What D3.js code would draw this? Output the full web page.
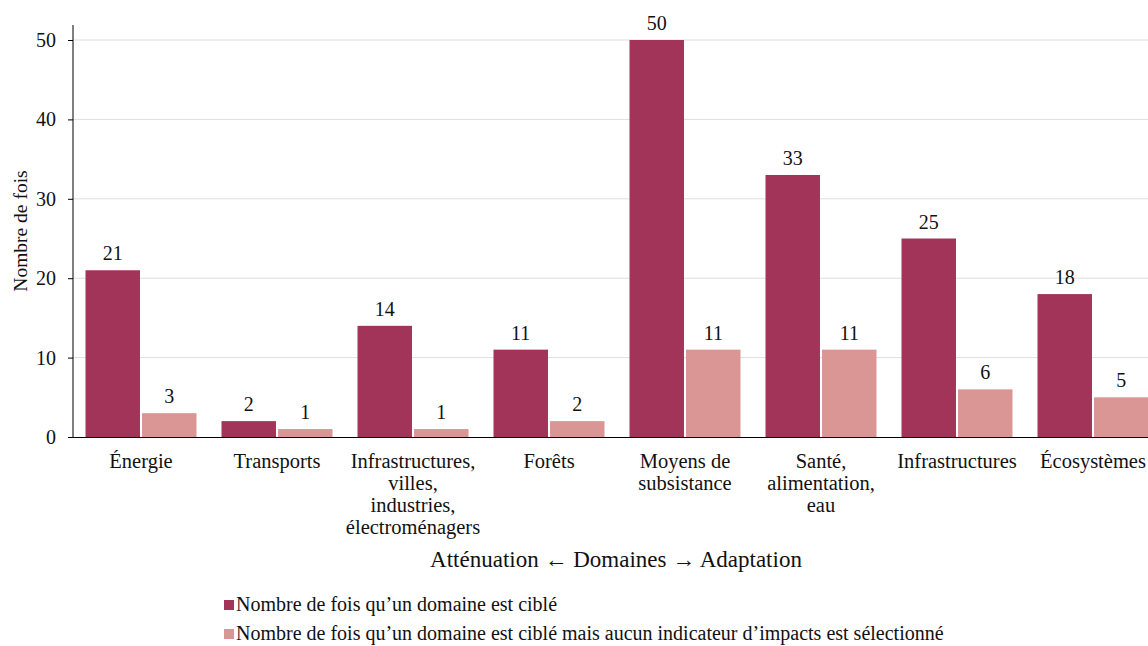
<!DOCTYPE html>
<html><head><meta charset="utf-8">
<script src="https://cdn.jsdelivr.net/npm/d3@7"></script>
<style>body{margin:0;background:#fff}svg{display:block}</style>
</head><body><svg id="c" width="1148" height="646" font-family="Liberation Serif"></svg>
<script>
const categories = [
  ["Énergie"],
  ["Transports"],
  ["Infrastructures,","villes,","industries,","électroménagers"],
  ["Forêts"],
  ["Moyens de","subsistance"],
  ["Santé,","alimentation,","eau"],
  ["Infrastructures"],
  ["Écosystèmes"]
];
const seriesNames = ["Nombre de fois qu’un domaine est ciblé",
  "Nombre de fois qu’un domaine est ciblé mais aucun indicateur d’impacts est sélectionné"];
const targeted = [21, 2, 14, 11, 50, 33, 25, 18];
const noIndicator = [3, 1, 1, 2, 11, 11, 6, 5];
const yTicks = [0, 10, 20, 30, 40, 50];
const colors = ["#A33459", "#DA9695"];
const FONT = "Liberation Serif";

const svg = d3.select("#c");
const mLeft = 73, mTop = 25, mBottom = 437;
const x = d3.scaleBand().domain(d3.range(categories.length)).range([mLeft, mLeft + 136*8]).paddingInner(25/136).paddingOuter(12.5/136);
const y = d3.scaleLinear().domain([0, 50]).range([mBottom, 40]);
const xs = d3.scaleBand().domain([0,1]).range([0, x.bandwidth()]).paddingInner(4/111);

// grid
svg.append("g").selectAll("line").data(yTicks.filter(d=>d>0)).join("line")
  .attr("x1", mLeft).attr("x2", 1148).attr("y1", d=>y(d)).attr("y2", d=>y(d))
  .attr("stroke", "#dedede").attr("stroke-width", 1);

const series = [targeted, noIndicator];
series.forEach((vals, si) => {
  const g = svg.append("g");
  g.selectAll("rect").data(vals).join("rect")
    .attr("x", (d,i)=>x(i)+xs(si)).attr("width", xs.bandwidth())
    .attr("y", d=>y(d)).attr("height", d=>mBottom - y(d)).attr("fill", colors[si]);
  g.selectAll("text").data(vals).join("text")
    .attr("x", (d,i)=>x(i)+xs(si)+xs.bandwidth()/2).attr("y", d=>y(d)-10)
    .attr("text-anchor","middle").attr("font-family", FONT).attr("font-size", 20).attr("fill","#111").text(d=>d);
});

// y axis
const ya = svg.append("g").attr("transform", `translate(${mLeft},0)`)
  .call(d3.axisLeft(y).tickValues(yTicks).tickSize(5).tickPadding(12).tickSizeOuter(0));
ya.attr("font-family", FONT);
ya.select(".domain").attr("d", `M0,${mTop}V${mBottom}`).attr("stroke","#000");
ya.selectAll("text").attr("font-family", FONT).attr("font-size", 20).attr("fill","#111");
ya.selectAll(".tick line").attr("stroke","#000");

// x baseline
svg.append("line").attr("x1", mLeft-5).attr("x2", 1148).attr("y1", mBottom+0.5).attr("y2", mBottom+0.5).attr("stroke","#000");

// category labels
const cl = svg.append("g");
categories.forEach((lines, i) => {
  const t = cl.append("text").attr("text-anchor","middle").attr("font-family", FONT).attr("font-size", 20.5).attr("fill","#111");
  lines.forEach((ln, j) => t.append("tspan").attr("x", x(i)+x.bandwidth()/2).attr("y", 468 + j*22).text(ln));
});

// titles
svg.append("text").attr("x", 616).attr("y", 567).attr("text-anchor","middle").attr("font-family", FONT).attr("font-size", 23).attr("fill","#111")
  .text("Atténuation ← Domaines → Adaptation");
svg.append("text").attr("transform", "translate(27,231) rotate(-90)").attr("text-anchor","middle").attr("font-family", FONT).attr("font-size", 19.5).attr("fill","#111")
  .text("Nombre de fois");

// legend
const lg = svg.append("g");
seriesNames.forEach((n, i) => {
  const base = 611 + i*29;
  lg.append("rect").attr("x", 224).attr("y", base-11).attr("width", 10).attr("height", 10).attr("fill", colors[i]);
  lg.append("text").attr("x", 236).attr("y", base).attr("font-family", FONT).attr("font-size", 20).attr("fill","#111").text(n);
});
</script></body></html>
